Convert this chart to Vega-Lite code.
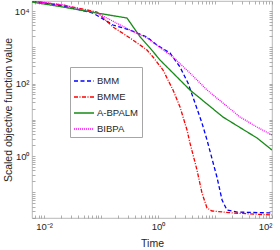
{
  "$schema": "https://vega.github.io/schema/vega-lite/v6.json",
  "width": 240,
  "height": 217,
  "autosize": {"type": "none"},
  "padding": {"left": 32, "top": 1, "right": 8, "bottom": 32},
  "background": "white",
  "config": {
    "view": {"stroke": "#a6a6a6", "strokeWidth": 0.8},
    "font": "Liberation Sans",
    "axis": {"grid": false, "domain": false, "tickColor": "#8c8c8c", "tickSize": -3, "tickWidth": 0.7, "labelColor": "#262626", "labelFont": "Liberation Sans", "labelFontSize": 9.5, "titleFont": "Liberation Sans", "titleFontSize": 10.5, "titleFontWeight": "normal", "titleColor": "#262626"}
  },
  "data": {
    "values": [
      {"method": "BMM", "t": 0.00615, "v": 18880},
      {"method": "BMM", "t": 0.0215, "v": 13800},
      {"method": "BMM", "t": 0.0724, "v": 8810},
      {"method": "BMM", "t": 0.1625, "v": 4110},
      {"method": "BMM", "t": 0.3228, "v": 2990},
      {"method": "BMM", "t": 0.6411, "v": 1920},
      {"method": "BMM", "t": 0.96, "v": 1150},
      {"method": "BMM", "t": 1.624, "v": 694},
      {"method": "BMM", "t": 2.432, "v": 285},
      {"method": "BMM", "t": 3.36, "v": 103},
      {"method": "BMM", "t": 4.46, "v": 29.0},
      {"method": "BMM", "t": 5.91, "v": 8.13},
      {"method": "BMM", "t": 7.24, "v": 2.76},
      {"method": "BMM", "t": 10.8, "v": 0.264},
      {"method": "BMM", "t": 13.3, "v": 0.0611},
      {"method": "BMM", "t": 16.2, "v": 0.0324},
      {"method": "BMM", "t": 24.3, "v": 0.0285},
      {"method": "BMM", "t": 100, "v": 0.0268},
      {"method": "BMME", "t": 0.00615, "v": 18880},
      {"method": "BMME", "t": 0.0215, "v": 14650},
      {"method": "BMME", "t": 0.0851, "v": 9380},
      {"method": "BMME", "t": 0.1625, "v": 3620},
      {"method": "BMME", "t": 0.3228, "v": 1800},
      {"method": "BMME", "t": 0.6411, "v": 840},
      {"method": "BMME", "t": 0.8171, "v": 538},
      {"method": "BMME", "t": 1.224, "v": 236},
      {"method": "BMME", "t": 1.833, "v": 66.2},
      {"method": "BMME", "t": 2.432, "v": 22.5},
      {"method": "BMME", "t": 3.227, "v": 5.21},
      {"method": "BMME", "t": 3.64, "v": 2.28},
      {"method": "BMME", "t": 4.83, "v": 0.411},
      {"method": "BMME", "t": 5.91, "v": 0.0953},
      {"method": "BMME", "t": 7.24, "v": 0.0368},
      {"method": "BMME", "t": 8.86, "v": 0.0304},
      {"method": "BMME", "t": 20.7, "v": 0.0268},
      {"method": "BMME", "t": 100, "v": 0.0236},
      {"method": "A-BPALM", "t": 0.00615, "v": 17700},
      {"method": "A-BPALM", "t": 0.0215, "v": 12900},
      {"method": "A-BPALM", "t": 0.0851, "v": 8810},
      {"method": "A-BPALM", "t": 0.2858, "v": 6410},
      {"method": "A-BPALM", "t": 0.4833, "v": 1950},
      {"method": "A-BPALM", "t": 0.724, "v": 954},
      {"method": "A-BPALM", "t": 1.084, "v": 445},
      {"method": "A-BPALM", "t": 3.64, "v": 66.2},
      {"method": "A-BPALM", "t": 13.8, "v": 11.9},
      {"method": "A-BPALM", "t": 54.6, "v": 3.14},
      {"method": "A-BPALM", "t": 100, "v": 1.46},
      {"method": "BIBPA", "t": 0.00615, "v": 18880},
      {"method": "BIBPA", "t": 0.0215, "v": 14650},
      {"method": "BIBPA", "t": 0.0851, "v": 8810},
      {"method": "BIBPA", "t": 0.3228, "v": 2990},
      {"method": "BIBPA", "t": 0.6411, "v": 1800},
      {"method": "BIBPA", "t": 1.833, "v": 538},
      {"method": "BIBPA", "t": 3.64, "v": 195},
      {"method": "BIBPA", "t": 7.24, "v": 66.2},
      {"method": "BIBPA", "t": 13.8, "v": 29.0},
      {"method": "BIBPA", "t": 27.5, "v": 11.9},
      {"method": "BIBPA", "t": 54.6, "v": 6.31},
      {"method": "BIBPA", "t": 100, "v": 3.79}
    ]
  },
  "layer": [
    {
      "mark": {"type": "line", "clip": true, "strokeWidth": 1.3},
      "encoding": {
        "x": {"field": "t", "type": "quantitative",
          "scale": {"type": "log", "domain": [0.00615, 100], "nice": false},
          "axis": {"orient": "bottom", "title": "Time", "titleBaseline": "middle", "titleY": 25, "labelPadding": 6,
            "values": [0.007,0.008,0.009,0.01,0.02,0.03,0.04,0.05,0.06,0.07,0.08,0.09,0.1,0.2,0.3,0.4,0.5,0.6,0.7,0.8,0.9,1,2,3,4,5,6,7,8,9,10,20,30,40,50,60,70,80,90,100],
            "labelExpr": "abs(datum.value-0.01)<1e-9 ? '10⁻²' : abs(datum.value-1)<1e-9 ? '10⁰' : abs(datum.value-100)<1e-9 ? '10²' : ''"}},
        "y": {"field": "v", "type": "quantitative",
          "scale": {"type": "log", "domain": [0.0195, 18900], "nice": false},
          "axis": {"orient": "left", "title": "Scaled objective function value", "titleBaseline": "middle", "titleX": -24, "labelPadding": 6,
            "values": [0.02,0.03,0.04,0.05,0.06,0.07,0.08,0.09,0.1,0.2,0.3,0.4,0.5,0.6,0.7,0.8,0.9,1,2,3,4,5,6,7,8,9,10,20,30,40,50,60,70,80,90,100,200,300,400,500,600,700,800,900,1000,2000,3000,4000,5000,6000,7000,8000,9000,10000],
            "labelExpr": "abs(datum.value-1)<1e-9 ? '10⁰' : abs(datum.value-100)<1e-9 ? '10²' : abs(datum.value-10000)<1e-9 ? '10⁴' : ''"}},
        "color": {"field": "method", "type": "nominal",
          "scale": {"domain": ["BMM", "BMME", "A-BPALM", "BIBPA"], "range": ["#0000ff", "#ff0000", "#178a17", "#ff00ff"]},
          "legend": {"orient": "none", "legendX": 38, "legendY": 66, "title": null, "symbolType": "stroke", "symbolSize": 400, "symbolStrokeWidth": 1.3,
            "labelFontSize": 9.5, "labelColor": "#262626", "labelFont": "Liberation Sans", "rowPadding": 0, "padding": 3, "labelOffset": 2,
            "fillColor": "white", "strokeColor": "#a6a6a6"}},
        "strokeDash": {"field": "method", "type": "nominal",
          "scale": {"domain": ["BMM", "BMME", "A-BPALM", "BIBPA"], "range": [[4, 2.5], [4, 1.5, 1, 1.5], [1, 0], [1, 1]]},
          "legend": {"orient": "none", "legendX": 38, "legendY": 66, "title": null, "symbolType": "stroke", "symbolSize": 400, "symbolStrokeWidth": 1.3,
            "labelFontSize": 9.5, "labelColor": "#262626", "labelFont": "Liberation Sans", "rowPadding": 0, "padding": 3, "labelOffset": 2,
            "fillColor": "white", "strokeColor": "#a6a6a6"}}
      }
    },
    {
      "mark": {"type": "line", "clip": true, "opacity": 0},
      "encoding": {
        "x": {"field": "t", "type": "quantitative",
          "axis": {"orient": "top", "title": null, "labels": false,
            "values": [0.007,0.008,0.009,0.01,0.02,0.03,0.04,0.05,0.06,0.07,0.08,0.09,0.1,0.2,0.3,0.4,0.5,0.6,0.7,0.8,0.9,1,2,3,4,5,6,7,8,9,10,20,30,40,50,60,70,80,90,100]}},
        "y": {"field": "v", "type": "quantitative",
          "axis": {"orient": "right", "title": null, "labels": false,
            "values": [0.02,0.03,0.04,0.05,0.06,0.07,0.08,0.09,0.1,0.2,0.3,0.4,0.5,0.6,0.7,0.8,0.9,1,2,3,4,5,6,7,8,9,10,20,30,40,50,60,70,80,90,100,200,300,400,500,600,700,800,900,1000,2000,3000,4000,5000,6000,7000,8000,9000,10000]}},
        "detail": {"field": "method", "type": "nominal"}
      }
    }
  ],
  "resolve": {"axis": {"x": "independent", "y": "independent"}}
}
